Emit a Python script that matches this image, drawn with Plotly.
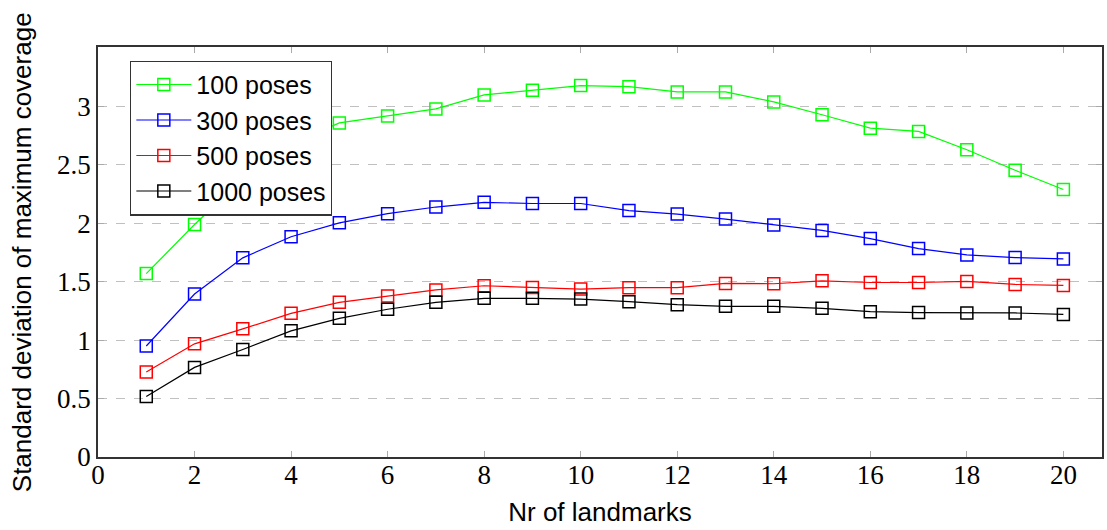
import plotly.graph_objects as go

landmarks = list(range(1, 21))

poses_100 = [1.57, 1.99, 2.38, 2.68, 2.86, 2.92, 2.98, 3.10, 3.14, 3.18,
             3.17, 3.125, 3.125, 3.04, 2.93, 2.815, 2.787, 2.63, 2.455, 2.29]
poses_300 = [0.95, 1.395, 1.705, 1.886, 2.005, 2.083, 2.14, 2.18, 2.17, 2.17,
             2.11, 2.08, 2.037, 1.986, 1.94, 1.87, 1.784, 1.73, 1.707, 1.696]
poses_500 = [0.727, 0.969, 1.097, 1.23, 1.324, 1.378, 1.43, 1.466, 1.452, 1.438,
             1.45, 1.45, 1.486, 1.483, 1.508, 1.494, 1.494, 1.503, 1.477, 1.469]
poses_1000 = [0.517, 0.767, 0.92, 1.08, 1.187, 1.265, 1.324, 1.358, 1.358, 1.352,
              1.33, 1.304, 1.29, 1.29, 1.273, 1.244, 1.236, 1.233, 1.233, 1.221]

series = [
    ("100 poses", poses_100, "#00ff00"),
    ("300 poses", poses_300, "#0000ff"),
    ("500 poses", poses_500, "#ff0000"),
    ("1000 poses", poses_1000, "#000000"),
]

x_ticks = list(range(0, 21, 2))
y_ticks = [0, 0.5, 1, 1.5, 2, 2.5, 3]
y_tick_labels = ["0", "0.5", "1", "1.5", "2", "2.5", "3"]

fig = go.Figure()
for name, values, color in series:
    fig.add_trace(go.Scatter(
        x=landmarks, y=values, name=name, mode="lines+markers",
        line=dict(color=color, width=1.2),
        marker=dict(symbol="square-open", size=12, color=color,
                    line=dict(width=1.5, color=color)),
    ))

tick_font = dict(family="Liberation Serif, DejaVu Serif, serif", size=27, color="black")
title_font = dict(family="Liberation Sans, Arial, sans-serif", size=26, color="black")

fig.update_layout(
    width=1107, height=530,
    margin=dict(l=98, r=3, t=47, b=73),
    plot_bgcolor="white", paper_bgcolor="white",
    showlegend=True,
    legend=dict(
        x=0.032, y=0.967, xanchor="left", yanchor="top",
        bgcolor="white", bordercolor="#333333", borderwidth=1.2,
        font=dict(family="Liberation Sans, Arial, sans-serif", size=25, color="black"),
        tracegroupgap=0, itemwidth=55,
    ),
    xaxis=dict(
        range=[0, 20.8], tickvals=x_ticks, ticktext=[str(v) for v in x_ticks],
        ticks="inside", ticklen=6, tickcolor="#aaaaaa", tickwidth=1,
        showline=True, linecolor="#333333", linewidth=1.5, mirror="ticks",
        showgrid=False, zeroline=False,
        tickfont=tick_font, ticklabelstandoff=-7,
        title=dict(text="Nr of landmarks", font=title_font, standoff=14),
    ),
    yaxis=dict(
        range=[0, 3.51], tickvals=y_ticks, ticktext=y_tick_labels,
        ticks="inside", ticklen=6, tickcolor="#aaaaaa", tickwidth=1,
        showline=True, linecolor="#333333", linewidth=1.5, mirror="ticks",
        showgrid=True, gridcolor="#c0c0c0", gridwidth=1, griddash="dash",
        zeroline=False,
        tickfont=tick_font,
    ),
    annotations=[dict(
        text="Standard deviation of maximum coverage",
        xref="paper", yref="paper", x=-0.0755, y=0.5,
        xanchor="center", yanchor="middle", textangle=-90,
        showarrow=False, font=title_font,
    )],
)

fig.write_html("out.html")
